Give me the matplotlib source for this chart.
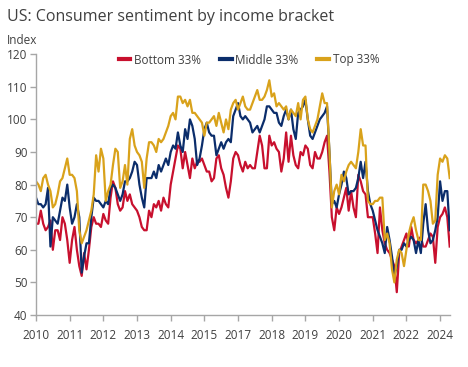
import matplotlib
matplotlib.use("Agg")
import matplotlib.pyplot as plt
import pandas as pd

# Monthly data, Jan 2010 onwards
bottom = [68, 68, 72, 68, 66, 67, 69, 60, 66, 66, 63, 70,
          68, 63, 56, 63, 67, 60, 55, 52, 59, 54, 60, 67,
          70, 68, 68, 67, 71, 69, 68, 76, 81, 79, 74, 72,
          73, 78, 75, 77, 74, 73, 72, 70, 67, 66, 66, 72,
          70, 74, 73, 75, 72, 76, 74, 73, 80, 84, 88, 92,
          91, 85, 90, 86, 82, 88, 85, 87, 87, 88, 86, 84,
          84, 81, 82, 88, 89, 85, 83, 79, 76, 81, 88, 90,
          89, 86, 84, 87, 85, 86, 85, 85, 90, 95, 92, 85,
          85, 95, 92, 93, 91, 90, 84, 88, 96, 87, 95, 89,
          86, 85, 90, 89, 92, 91, 86, 85, 90, 88, 88, 90,
          93, 95, 84, 70, 66, 73, 71, 73, 76, 79, 72, 78,
          73, 70, 83, 81, 78, 77, 70, 70, 70, 65, 59, 73,
          66, 62, 60, 59, 57, 55, 47, 59, 61, 63, 65, 61,
          67, 63, 62, 63, 64, 61, 61, 63, 65, 64, 56, 67,
          70, 71, 73, 70, 61]
middle = [76, 74, 74, 73, 74, 79, 61, 70, 69, 68, 72, 76,
          75, 80, 73, 68, 70, 74, 70, 53, 58, 62, 62, 70,
          76, 75, 75, 74, 73, 75, 74, 79, 80, 79, 77, 75,
          77, 81, 81, 82, 84, 87, 86, 80, 76, 73, 82, 82,
          82, 84, 82, 86, 84, 86, 88, 86, 90, 92, 91, 96,
          92, 90, 97, 94, 100, 98, 94, 86, 88, 92, 97, 99,
          96, 95, 95, 89, 91, 93, 91, 93, 94, 93, 101, 103,
          105, 101, 100, 101, 100, 99, 96, 97, 98, 96, 98, 100,
          104, 104, 103, 102, 102, 99, 98, 101, 103, 100, 103, 97,
          94, 102, 103, 104, 106, 100, 95, 94, 96, 98, 100, 101,
          102, 104, 90, 74, 75, 73, 77, 80, 84, 82, 77, 78,
          78, 79, 82, 87, 82, 87, 78, 74, 72, 69, 66, 64,
          62, 59, 67, 63, 58, 52, 55, 60, 60, 62, 61, 63,
          64, 63, 59, 63, 59, 68, 74, 66, 62, 63, 66, 70,
          81, 75, 78, 78, 66]
top = [81, 80, 78, 82, 83, 80, 78, 73, 74, 77, 81, 82,
       85, 88, 83, 83, 82, 78, 66, 62, 64, 66, 69, 72,
       77, 89, 84, 91, 88, 75, 78, 80, 86, 91, 90, 79,
       81, 86, 80, 94, 97, 92, 90, 89, 87, 79, 88, 93,
       93, 92, 90, 94, 93, 94, 96, 98, 101, 102, 100, 107,
       107, 105, 106, 104, 106, 102, 102, 101, 100, 99, 95, 99,
       99, 100, 101, 98, 102, 99, 96, 100, 97, 103, 105, 106,
       103, 105, 107, 104, 103, 103, 105, 107, 109, 106, 106, 107,
       109, 112, 107, 108, 104, 105, 104, 103, 104, 100, 103, 102,
       101, 105, 100, 106, 107, 100, 97, 96, 98, 100, 104, 108,
       105, 105, 90, 73, 78, 80, 77, 83, 81, 84, 86, 87,
       86, 85, 90, 97, 92, 92, 75, 74, 74, 75, 75, 76,
       76, 63, 65, 62, 54, 50, 57, 60, 59, 55, 60, 65,
       68, 70, 66, 63, 63, 80, 80, 78, 75, 68, 69, 83,
       88, 87, 89, 88, 82]

series_names = ["Bottom 33%", "Middle 33%", "Top 33%"]
colors = ["#C8102E", "#0B2D6B", "#D9A21B"]

dates = pd.date_range("2010-01-01", periods=len(bottom), freq="MS")
tick_step = 14
tick_pos = list(range(0, len(dates), tick_step))
tick_labels = [str(dates[i].year) for i in tick_pos]

plt.rcParams['font.family'] = ['Open Sans', 'DejaVu Sans']

fig = plt.figure(figsize=(4.68, 3.67), dpi=100)
ax = fig.add_axes([36/468, 52/367, 413.7/468, 260.8/367])

x = list(range(len(bottom)))
for vals, name, c in zip([bottom, middle, top], series_names, colors):
    ax.plot(x, vals, color=c, lw=1.6, label=name, solid_joinstyle='round')

ax.set_xlim(0, len(bottom) - 1)
ax.set_ylim(40, 120)
ax.set_yticks(range(40, 121, 10))
ax.set_xticks(tick_pos)
ax.set_xticklabels(tick_labels)

for s in ['top', 'right']:
    ax.spines[s].set_visible(False)
for s in ['left', 'bottom']:
    ax.spines[s].set_color('#A6A6A6')
    ax.spines[s].set_linewidth(1.0)
ax.tick_params(axis='both', colors='#A6A6A6', labelcolor='#404040', labelsize=8.5,
               length=4, width=1.0)
ax.tick_params(axis='x', pad=6)
ax.tick_params(axis='y', pad=2)

fig.text(7/468, 1 - 17/367, "US: Consumer sentiment by income bracket",
         fontsize=11.5, color='#404040', va='center', ha='left')
fig.text(7/468, 1 - 40/367, "Index", fontsize=8.5, color='#404040', va='center', ha='left')

leg = fig.legend(loc='center', bbox_to_anchor=(249/468, 1 - 60/367), ncol=3, frameon=False,
                 fontsize=8.5, handlelength=1.0, handletextpad=0.3, columnspacing=1.6)
for h in leg.legend_handles:
    h.set_linewidth(3)
for t in leg.get_texts():
    t.set_color('#404040')

fig.savefig("out.png", dpi=100, facecolor='white')
